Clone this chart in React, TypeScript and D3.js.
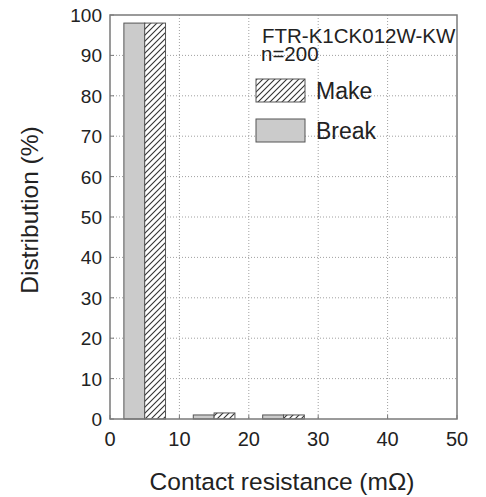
import React, { useEffect, useRef } from 'react';
import * as d3 from 'd3';

// bin centres (mΩ) and distribution (%) per series
const binCenters = [5, 15, 25];
const breakValues = [98, 1, 1];
const makeValues = [98, 1.5, 1];
const xTicks = [0, 10, 20, 30, 40, 50];
const yTicks = [0, 10, 20, 30, 40, 50, 60, 70, 80, 90, 100];
const modelName = 'FTR-K1CK012W-KW';
const sampleLabel = 'n=200';

const W = 486;
const H = 497;
const FONT = '"Liberation Sans", Arial, sans-serif';

export default function App() {
  const svgRef = useRef<SVGSVGElement | null>(null);

  useEffect(() => {
    const svg = d3.select(svgRef.current);
    svg.selectAll('*').remove();

    const left = 110, right = 457, top = 15, bottom = 419;
    const x = d3.scaleLinear().domain([0, 50]).range([left, right]);
    const y = d3.scaleLinear().domain([0, 100]).range([bottom, top]);
    const halfBin = 3;

    const defs = svg.append('defs');
    const pat = defs.append('pattern')
      .attr('id', 'hatch')
      .attr('patternUnits', 'userSpaceOnUse')
      .attr('width', 6)
      .attr('height', 6);
    pat.append('rect').attr('width', 6).attr('height', 6).attr('fill', '#fff');
    pat.append('path')
      .attr('d', 'M0,6 L6,0 M-1.5,1.5 L1.5,-1.5 M4.5,7.5 L7.5,4.5')
      .attr('stroke', '#333')
      .attr('stroke-width', 1.1);

    // Gridlines (dotted)
    const grid = svg.append('g').attr('stroke', '#a0a0a0').attr('stroke-width', 1).attr('stroke-dasharray', '1,2');
    yTicks.filter(t => t > 0 && t < 100).forEach(t => {
      grid.append('line').attr('x1', left).attr('x2', right).attr('y1', y(t)).attr('y2', y(t));
    });
    xTicks.filter(t => t > 0 && t < 50).forEach(t => {
      grid.append('line').attr('x1', x(t)).attr('x2', x(t)).attr('y1', top).attr('y2', bottom);
    });

    // Bars
    const bars = svg.append('g').attr('stroke', '#555').attr('stroke-width', 1);
    binCenters.forEach((c, i) => {
      bars.append('rect')
        .attr('x', x(c - halfBin))
        .attr('y', y(breakValues[i]))
        .attr('width', x(c) - x(c - halfBin))
        .attr('height', y(0) - y(breakValues[i]))
        .attr('fill', '#cbcbcb');
      bars.append('rect')
        .attr('x', x(c))
        .attr('y', y(makeValues[i]))
        .attr('width', x(c + halfBin) - x(c))
        .attr('height', y(0) - y(makeValues[i]))
        .attr('fill', 'url(#hatch)');
    });

    // Frame
    svg.append('rect')
      .attr('x', left).attr('y', top)
      .attr('width', right - left).attr('height', bottom - top)
      .attr('fill', 'none').attr('stroke', '#7a7a7a').attr('stroke-width', 1.5);

    // Inward ticks
    const ticks = svg.append('g').attr('stroke', '#7a7a7a').attr('stroke-width', 1);
    yTicks.forEach(t => ticks.append('line').attr('x1', left).attr('x2', left + 4).attr('y1', y(t)).attr('y2', y(t)));
    xTicks.forEach(t => ticks.append('line').attr('x1', x(t)).attr('x2', x(t)).attr('y1', bottom).attr('y2', bottom - 4));

    // Tick labels
    svg.append('g').selectAll('text').data(yTicks).join('text')
      .attr('x', 102).attr('y', d => y(d) + 7)
      .attr('text-anchor', 'end')
      .attr('font-family', FONT).attr('font-size', 19).attr('fill', '#222')
      .text(d => d);
    svg.append('g').selectAll('text').data(xTicks).join('text')
      .attr('x', d => x(d)).attr('y', 446)
      .attr('text-anchor', 'middle')
      .attr('font-family', FONT).attr('font-size', 20).attr('fill', '#222')
      .text(d => d);

    // Axis titles
    svg.append('text')
      .attr('transform', 'translate(38,210) rotate(-90)')
      .attr('text-anchor', 'middle')
      .attr('font-family', FONT).attr('font-size', 24.5).attr('fill', '#222')
      .text('Distribution (%)');
    svg.append('text')
      .attr('x', 282).attr('y', 490)
      .attr('text-anchor', 'middle')
      .attr('font-family', FONT).attr('font-size', 24.5).attr('fill', '#222')
      .text('Contact resistance (mΩ)');

    // Annotation + legend
    svg.append('text')
      .attr('x', 262).attr('y', 43)
      .attr('font-family', FONT).attr('font-size', 20.5).attr('fill', '#222')
      .text(modelName);
    svg.append('text')
      .attr('x', 261).attr('y', 61)
      .attr('font-family', FONT).attr('font-size', 20.5).attr('fill', '#222')
      .text(sampleLabel);

    const legend = [
      { label: 'Make', fill: 'url(#hatch)', y0: 79 },
      { label: 'Break', fill: '#cbcbcb', y0: 119 },
    ];
    legend.forEach(l => {
      svg.append('rect')
        .attr('x', 256).attr('y', l.y0).attr('width', 49).attr('height', 23)
        .attr('fill', l.fill).attr('stroke', '#555').attr('stroke-width', 1);
      svg.append('text')
        .attr('x', 316).attr('y', l.y0 + 20)
        .attr('font-family', FONT).attr('font-size', 23).attr('fill', '#222')
        .text(l.label);
    });
  }, []);

  return (
    <svg ref={svgRef} width={W} height={H}
      style={{ position: 'absolute', left: 0, top: 0, background: '#fff' }} />
  );
}
